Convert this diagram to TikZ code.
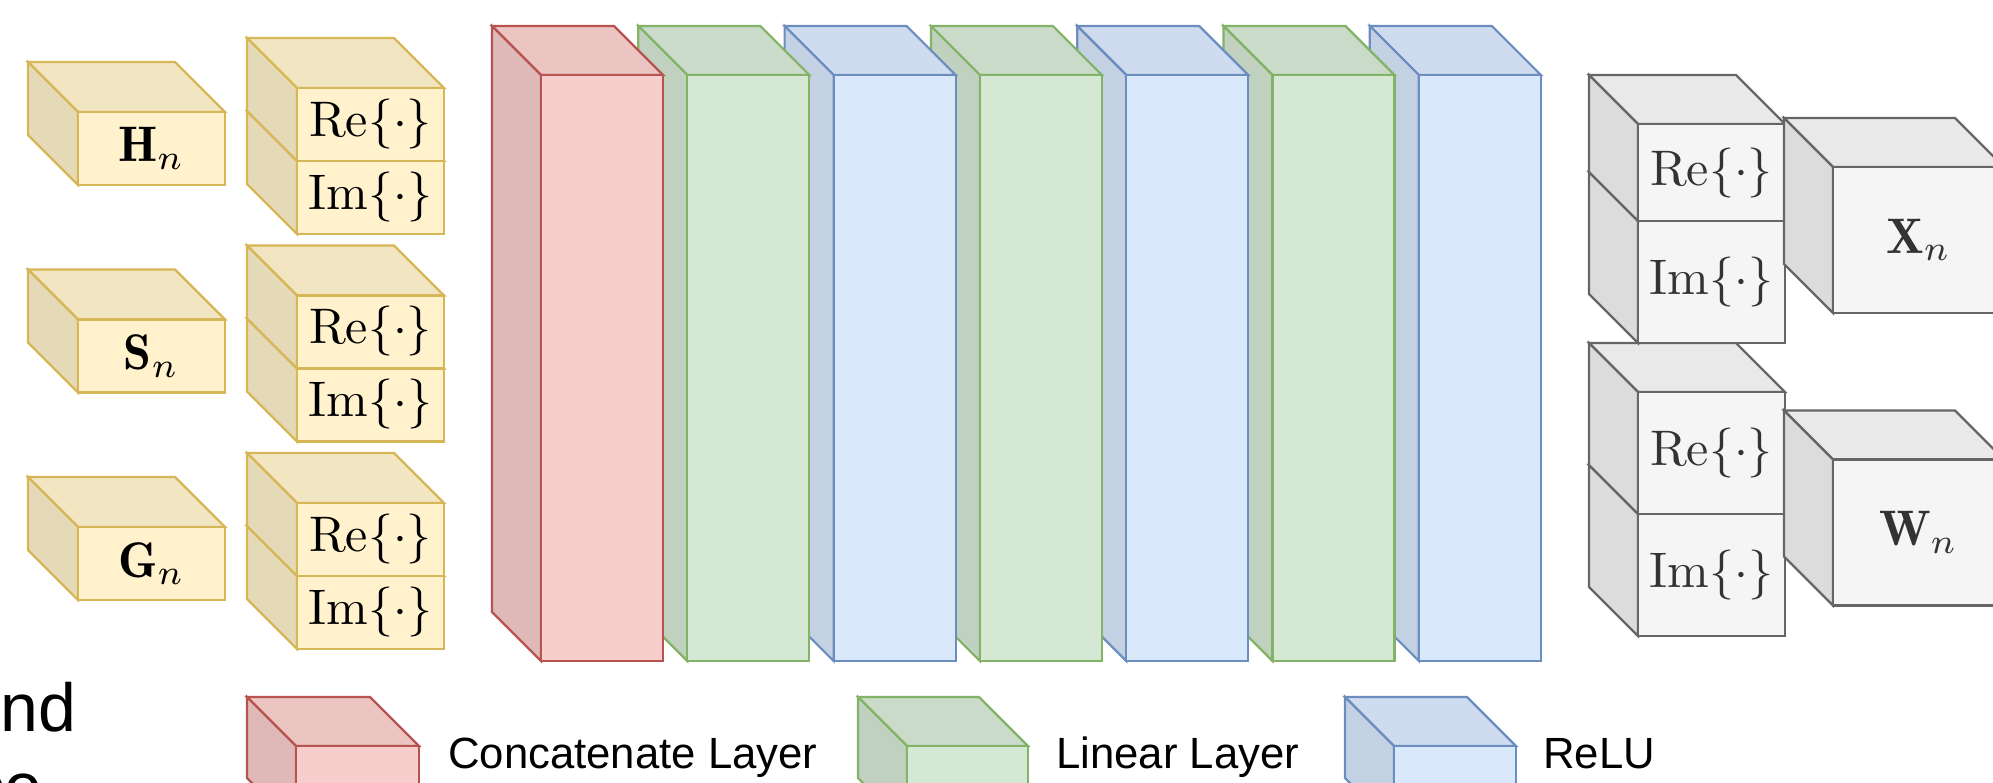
\documentclass[tikz,border=0pt]{standalone}
\usepackage{graphicx}
\usepackage{fontspec}
\newfontfamily\legendfont{Liberation Sans}
\definecolor{ylwF}{HTML}{FFF2CC}\definecolor{ylwS}{HTML}{D6B656}
\definecolor{redF}{HTML}{F8CECC}\definecolor{redS}{HTML}{B85450}
\definecolor{grnF}{HTML}{D5E8D4}\definecolor{grnS}{HTML}{82B366}
\definecolor{bluF}{HTML}{DAE8FC}\definecolor{bluS}{HTML}{6C8EBF}
\definecolor{gryF}{HTML}{F5F5F5}\definecolor{gryS}{HTML}{666666}
\definecolor{gryT}{HTML}{333333}
\newcommand\cubebox[7]{% x y w h depth fill stroke
  \filldraw[cubeline, draw=#7, fill=#6!95!black] ({#1},{#2}) -- ({#1+#3-#5},{#2}) -- ({#1+#3},{#2+#5}) -- ({#1+#5},{#2+#5}) -- cycle;
  \filldraw[cubeline, draw=#7, fill=#6!90!black] ({#1},{#2}) -- ({#1+#5},{#2+#5}) -- ({#1+#5},{#2+#4}) -- ({#1},{#2+#4-#5}) -- cycle;
  \filldraw[cubeline, draw=#7, fill=#6] ({#1+#5},{#2+#5}) rectangle ({#1+#3},{#2+#4});
}
\newcommand\bigmath[1]{\scalebox{5}{\fontsize{10}{12}\selectfont$#1$}}
\tikzset{
  cubeline/.style={line width=2.2pt, line join=miter},
  mathtxt/.style={inner sep=0pt},
  graytxt/.style={mathtxt, text=gryT},
  legtxt/.style={font=\legendfont\fontsize{43.7}{52}\selectfont, inner sep=0pt, anchor=base west},
  bigtxt/.style={font=\legendfont\fontsize{68}{80}\selectfont, inner sep=0pt}
}
\begin{document}
\begin{tikzpicture}[x=1pt, y=-1pt]
\path[use as bounding box] (0,0) rectangle (1993,782);
\clip (0,0) rectangle (1993,782);
% input cubes
\cubebox{28}{62}{197}{123}{50}{ylwF}{ylwS}
\cubebox{28}{269.5}{197}{123}{50}{ylwF}{ylwS}
\cubebox{28}{477}{197}{123}{50}{ylwF}{ylwS}
\foreach \k in {0,1,2} {
  \cubebox{247}{38+207.5*\k+73}{197}{123}{50}{ylwF}{ylwS}
  \cubebox{247}{38+207.5*\k}{197}{123}{50}{ylwF}{ylwS}
}
% layers
\foreach \i/\c in {6/blu,5/grn,4/blu,3/grn,2/blu,1/grn,0/red} {
  \cubebox{492+146.3*\i}{26}{171}{635}{49}{\c F}{\c S}
}
% outputs
\cubebox{1589}{465}{196}{171}{49}{gryF}{gryS}
\cubebox{1589}{343}{196}{171}{49}{gryF}{gryS}
\cubebox{1589}{172}{196}{171}{49}{gryF}{gryS}
\cubebox{1589}{75}{196}{146}{49}{gryF}{gryS}
\cubebox{1784}{118}{220}{195}{49}{gryF}{gryS}
\cubebox{1784}{410.5}{220}{195}{49}{gryF}{gryS}
% legend cubes
\cubebox{247}{697}{172}{130}{49}{redF}{redS}
\cubebox{858}{697}{170}{130}{49}{grnF}{grnS}
\cubebox{1345}{697}{171}{130}{49}{bluF}{bluS}
% texts
\node[mathtxt] (hn) at (151.5,148.5) {\bigmath{\mathbf{H}_n}};
\node[mathtxt] (sn) at (151.5,356) {\bigmath{\mathbf{S}_n}};
\node[mathtxt] (gn) at (151.5,563.5) {\bigmath{\mathbf{G}_n}};
\node[mathtxt] (re1) at (370.5,123.5) {\bigmath{\mathrm{Re}\{\cdot\}}};
\node[mathtxt] (im1) at (370.5,196.5) {\bigmath{\mathrm{Im}\{\cdot\}}};
\node[mathtxt] (re2) at (370.5,331) {\bigmath{\mathrm{Re}\{\cdot\}}};
\node[mathtxt] (im2) at (370.5,404) {\bigmath{\mathrm{Im}\{\cdot\}}};
\node[mathtxt] (re3) at (370.5,538.5) {\bigmath{\mathrm{Re}\{\cdot\}}};
\node[mathtxt] (im3) at (370.5,611.5) {\bigmath{\mathrm{Im}\{\cdot\}}};
\node[graytxt] (reX) at (1711.5,172.5) {\bigmath{\mathrm{Re}\{\cdot\}}};
\node[graytxt] (imX) at (1711.5,282) {\bigmath{\mathrm{Im}\{\cdot\}}};
\node[graytxt] (reW) at (1711.5,453) {\bigmath{\mathrm{Re}\{\cdot\}}};
\node[graytxt] (imW) at (1711.5,575) {\bigmath{\mathrm{Im}\{\cdot\}}};
\node[graytxt] (xn) at (1918.5,240) {\bigmath{\mathbf{X}_n}};
\node[graytxt] (wn) at (1918.5,532.5) {\bigmath{\mathbf{W}_n}};
\node[legtxt] (lconc) at (448,768) {Concatenate Layer};
\node[legtxt] (llin) at (1056,768) {Linear Layer};
\node[legtxt] (lrelu) at (1543,768) {ReLU};
\node[bigtxt, anchor=base west] (cutA) at (0.5,731) {nd};
\node[bigtxt, anchor=base east] (cutB) at (43,810) {ce};
\end{tikzpicture}
\end{document}
